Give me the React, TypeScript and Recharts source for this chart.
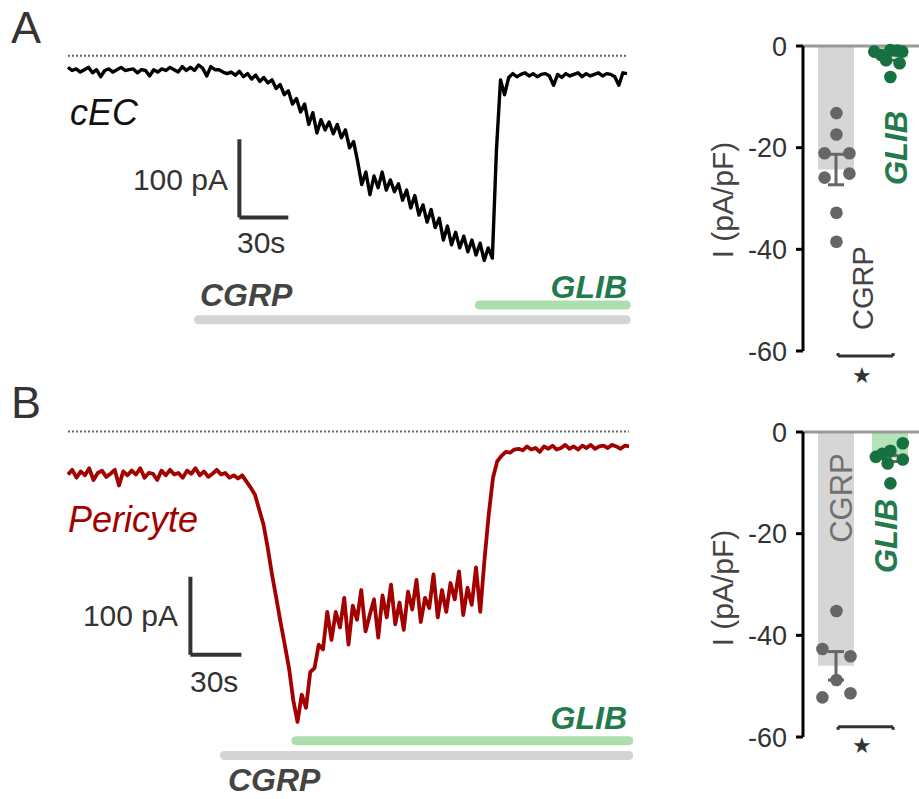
import {
  Bar,
  Cell,
  ComposedChart,
  ErrorBar,
  Line,
  LineChart,
  ReferenceLine,
  Scatter,
  XAxis,
  YAxis,
} from "recharts";

const FONT = '"Liberation Sans", Arial, sans-serif';

// whole-cell current traces, one sample every 2.5 s (pA)
const SAMPLE_S = 2.5;
const CEC_TRACE = [
  -15, -19, -17, -21, -18, -15, -22, -18, -27, -19,
  -17, -21, -18, -15, -19, -18, -17, -22, -18, -19,
  -26, -18, -21, -17, -19, -15, -18, -21, -14, -19,
  -15, -19, -12, -16, -26, -14, -18, -18, -21, -23,
  -21, -25, -20, -27, -23, -30, -25, -33, -28,
  -35, -31, -42, -37, -50, -45, -62, -55,
  -72, -62, -88, -73, -99, -82, -95, -85, -100, -88,
  -105, -95, -118, -110, -136, -165, -149, -178, -154, -169,
  -149, -172, -159, -174, -164, -185, -172, -195, -179, -204,
  -191, -213, -197, -220, -208, -236, -218, -242, -226, -246,
  -231, -251, -236, -255, -240, -262, -246, -259,
  -121, -31, -50, -28,
  -23, -27, -24, -22, -26, -23, -27, -24, -23, -26,
  -38, -24, -28, -23, -26, -24, -22, -27, -23, -26,
  -24, -22, -26, -23, -24, -27, -38, -22, -23,
];
const PERICYTE_TRACE = [
  -55, -49, -59, -51, -56, -47, -62, -53, -50, -58,
  -54, -49, -69, -51, -56, -50, -55, -47, -59, -53,
  -54, -62, -50, -56, -49, -55, -53, -59, -50, -54,
  -47, -56, -51, -58, -54, -49, -55, -53, -59, -56, -60,
  -56, -64, -72, -81, -100, -119, -149, -183, -213, -244,
  -273, -303, -344, -372, -337, -354, -308, -303, -273, -279, -231,
  -267, -231, -251, -213, -273, -223, -241, -203, -256, -235,
  -215, -264, -210, -238, -196, -247, -219, -254, -205, -228,
  -190, -244, -213, -226, -183, -238, -203, -231, -194, -215,
  -179, -235, -200, -222, -174, -231,
  -164, -106, -59, -38, -31, -26,
  -27, -23, -22, -24, -19, -23, -21, -26, -19, -22,
  -18, -23, -21, -17, -22, -19, -23, -18, -21, -17,
  -22, -19, -18, -21, -17, -19, -22, -18, -19,
];

// drug application windows (s)
const CEC_CGRP_ON = [80, 342];
const CEC_GLIB_ON = [252, 342];
const PER_CGRP_ON = [92, 330];
const PER_GLIB_ON = [134, 330];

// summary: current density (pA/pF)
const GROUPS = ["CGRP", "GLIB"];
const CEC_MEAN = [-24.3, -2.3];
const CEC_SEM = [3.0, 0.5];
const PER_MEAN = [-46.0, -5.2];
const PER_SEM = [2.8, 0.6];

const CEC_CGRP_I = [-13.2, -17.4, -21.1, -21.1, -25.9, -25.1, -32.8, -38.5];
const CEC_CGRP_X = [1.0, 1.0, 0.78, 1.24, 0.78, 1.24, 1.0, 1.0];
const CEC_GLIB_I = [-1.1, -1.8, -0.8, -0.9, -1.1, -2.8, -3.4, -6.1];
const CEC_GLIB_X = [1.7, 1.83, 2.0, 2.13, 2.22, 1.92, 2.17, 2.0];
const PER_CGRP_I = [-35.2, -42.7, -44.1, -48.8, -52.2, -51.4];
const PER_CGRP_X = [1.0, 0.74, 1.26, 1.0, 0.74, 1.26];
const PER_GLIB_I = [-4.9, -3.7, -2.2, -6.2, -5.4, -10.1, -4.3];
const PER_GLIB_X = [1.73, 2.0, 2.23, 1.95, 2.23, 2.0, 1.85];

const GRAY_DOT = "#666666";
const GREEN_DOT = "#17703f";
const GREEN_TXT = "#237a4d";

type Win = number[];

function Trace({
  values,
  color,
  lineWidth,
  width,
  left,
  top,
  tMax,
  yDomain,
  cgrp,
  glib,
  cgrpY,
  glibY,
  barT,
  barTop,
}: {
  values: number[];
  color: string;
  lineWidth: number;
  width: number;
  left: number;
  top: number;
  tMax: number;
  yDomain: [number, number];
  cgrp: Win;
  glib: Win;
  cgrpY: number;
  glibY: number;
  barT: number;
  barTop: number;
}) {
  const data = values.map((pA, i) => ({ t: i * SAMPLE_S, pA }));
  const height = Math.round((yDomain[1] - yDomain[0]) * 0.781) + 8;
  return (
    <div style={{ position: "absolute", left, top }}>
      <LineChart
        width={width}
        height={height}
        data={data}
        margin={{ top: 4, right: 4, bottom: 4, left: 4 }}
      >
        <XAxis type="number" dataKey="t" domain={[0, tMax]} hide />
        <YAxis type="number" domain={yDomain} hide />
        <ReferenceLine y={0} stroke="#666" strokeWidth={2} strokeDasharray="2 2" />
        <ReferenceLine
          segment={[{ x: cgrp[0], y: cgrpY }, { x: cgrp[1], y: cgrpY }]}
          stroke="#d4d4d4"
          strokeWidth={9}
          strokeLinecap="round"
        />
        <ReferenceLine
          segment={[{ x: glib[0], y: glibY }, { x: glib[1], y: glibY }]}
          stroke="#addfae"
          strokeWidth={9}
          strokeLinecap="round"
        />
        {/* scale bar: 100 pA x 30 s */}
        <ReferenceLine
          segment={[{ x: barT, y: barTop }, { x: barT, y: barTop - 100 }]}
          stroke="#333"
          strokeWidth={4}
        />
        <ReferenceLine
          segment={[{ x: barT, y: barTop - 100 }, { x: barT + 30, y: barTop - 100 }]}
          stroke="#333"
          strokeWidth={4}
        />
        <Line
          type="linear"
          dataKey="pA"
          stroke={color}
          strokeWidth={lineWidth}
          strokeLinejoin="round"
          dot={false}
          isAnimationActive={false}
        />
      </LineChart>
    </div>
  );
}

function Summary({
  top,
  mean,
  sem,
  cgrpI,
  cgrpX,
  glibI,
  glibX,
  bracketY,
}: {
  top: number;
  mean: number[];
  sem: number[];
  cgrpI: number[];
  cgrpX: number[];
  glibI: number[];
  glibX: number[];
  bracketY: number;
}) {
  const rows = GROUPS.map((g, i) => ({ g, mean: mean[i], sem: sem[i] }));
  const cgrpPts = cgrpI.map((y, i) => ({ x: cgrpX[i], y }));
  const glibPts = glibI.map((y, i) => ({ x: glibX[i], y }));
  const dot = (fill: string) => (p: any) => <circle cx={p.cx} cy={p.cy} r={6.3} fill={fill} />;
  const tickDir = bracketY < -60 ? 0.6 : -0.6;
  return (
    <div style={{ position: "absolute", left: 700, top }}>
      <ComposedChart
        width={219}
        height={400}
        data={rows}
        margin={{ top: 46, right: 0, bottom: 49, left: 0 }}
      >
        <XAxis dataKey="g" type="category" padding={{ left: 6, right: 2 }} hide />
        <XAxis xAxisId="num" type="number" dataKey="x" domain={[0.38, 2.53]} hide />
        <YAxis
          type="number"
          domain={[-60, 0]}
          ticks={[0, -20, -40, -60]}
          width={103}
          tick={{ fill: "#333", fontSize: 27, fontFamily: FONT }}
          tickSize={7}
          tickMargin={9}
          axisLine={{ stroke: "#000", strokeWidth: 3 }}
          tickLine={{ stroke: "#000", strokeWidth: 3 }}
        />
        <Bar dataKey="mean" barSize={36} isAnimationActive={false}>
          <Cell fill="#d6d6d6" />
          <Cell fill="#b3e3b6" />
          <ErrorBar dataKey="sem" width={8} stroke="#666" strokeWidth={3} />
        </Bar>
        <ReferenceLine y={0} stroke="#999" strokeWidth={3} />
        <Scatter xAxisId="num" data={cgrpPts} dataKey="y" shape={dot(GRAY_DOT)} isAnimationActive={false} />
        <Scatter xAxisId="num" data={glibPts} dataKey="y" shape={dot(GREEN_DOT)} isAnimationActive={false} />
        <ReferenceLine
          xAxisId="num"
          segment={[{ x: 1.03, y: bracketY }, { x: 2.05, y: bracketY }]}
          stroke="#333"
          strokeWidth={3}
          ifOverflow="visible"
        />
        <ReferenceLine
          xAxisId="num"
          segment={[{ x: 1.03, y: bracketY }, { x: 1.03, y: bracketY + tickDir }]}
          stroke="#333"
          strokeWidth={3}
          ifOverflow="visible"
        />
        <ReferenceLine
          xAxisId="num"
          segment={[{ x: 2.05, y: bracketY }, { x: 2.05, y: bracketY + tickDir }]}
          stroke="#333"
          strokeWidth={3}
          ifOverflow="visible"
        />
      </ComposedChart>
    </div>
  );
}

export default function App() {
  return (
    <div
      style={{
        position: "absolute",
        left: 0,
        top: 0,
        width: 919,
        height: 799,
        background: "#fff",
        fontFamily: FONT,
      }}
    >
      <Trace
        values={CEC_TRACE}
        color="#000"
        lineWidth={3.4}
        width={567}
        left={64}
        top={36}
        tMax={342.5}
        yDomain={[-360, 20]}
        cgrp={CEC_CGRP_ON}
        glib={CEC_GLIB_ON}
        cgrpY={-338}
        glibY={-319}
        barT={105}
        barTop={-107}
      />
      <Trace
        values={PERICYTE_TRACE}
        color="#a30000"
        lineWidth={3.8}
        width={569}
        left={64}
        top={412}
        tMax={330}
        yDomain={[-440, 20]}
        cgrp={PER_CGRP_ON}
        glib={PER_GLIB_ON}
        cgrpY={-415}
        glibY={-396}
        barT={72}
        barTop={-186}
      />
      <Summary
        top={0}
        mean={CEC_MEAN}
        sem={CEC_SEM}
        cgrpI={CEC_CGRP_I}
        cgrpX={CEC_CGRP_X}
        glibI={CEC_GLIB_I}
        glibX={CEC_GLIB_X}
        bracketY={-61}
      />
      <Summary
        top={386}
        mean={PER_MEAN}
        sem={PER_SEM}
        cgrpI={PER_CGRP_I}
        cgrpX={PER_CGRP_X}
        glibI={PER_GLIB_I}
        glibX={PER_GLIB_X}
        bracketY={-58}
      />
      <svg
        width={919}
        height={799}
        style={{ position: "absolute", left: 0, top: 0, pointerEvents: "none" }}
        fontFamily={FONT}
      >
        <text x={11} y={43} fontSize={45} fill="#333">A</text>
        <text x={11} y={418} fontSize={45} fill="#333">B</text>

        <text x={70} y={125} fontSize={36} fontStyle="italic" fill="#111">cEC</text>
        <text x={228} y={190} fontSize={30} fill="#333" textAnchor="end">100 pA</text>
        <text x={237} y={253} fontSize={30} fill="#333">30s</text>
        <text x={200} y={306} fontSize={32} fontStyle="italic" fontWeight="bold" fill="#444">CGRP</text>
        <text x={627} y={298} fontSize={32} fontStyle="italic" fontWeight="bold" fill={GREEN_TXT} textAnchor="end">GLIB</text>

        <text x={68} y={532} fontSize={36} fontStyle="italic" fill="#a30000">Pericyte</text>
        <text x={178} y={626} fontSize={30} fill="#333" textAnchor="end">100 pA</text>
        <text x={190} y={692} fontSize={30} fill="#333">30s</text>
        <text x={627} y={729} fontSize={32} fontStyle="italic" fontWeight="bold" fill={GREEN_TXT} textAnchor="end">GLIB</text>
        <text x={228} y={791} fontSize={32} fontStyle="italic" fontWeight="bold" fill="#444">CGRP</text>

        <text transform="translate(733,200) rotate(-90)" textAnchor="middle" fontSize={30} fill="#444">I (pA/pF)</text>
        <text transform="translate(733,588) rotate(-90)" textAnchor="middle" fontSize={30} fill="#444">I (pA/pF)</text>

        <text transform="translate(873,288) rotate(-90)" textAnchor="middle" fontSize={29} fill="#444">CGRP</text>
        <text transform="translate(907,148) rotate(-90)" textAnchor="middle" fontSize={31} fontStyle="italic" fontWeight="bold" fill={GREEN_TXT}>GLIB</text>
        <text transform="translate(852,498) rotate(-90)" textAnchor="middle" fontSize={31} fill="#707070">CGRP</text>
        <text transform="translate(897,536) rotate(-90)" textAnchor="middle" fontSize={31} fontStyle="italic" fontWeight="bold" fill={GREEN_TXT}>GLIB</text>

        <text x={862} y={383} fontSize={22} fill="#333" textAnchor="middle">★</text>
        <text x={862} y={753} fontSize={22} fill="#333" textAnchor="middle">★</text>
      </svg>
    </div>
  );
}
